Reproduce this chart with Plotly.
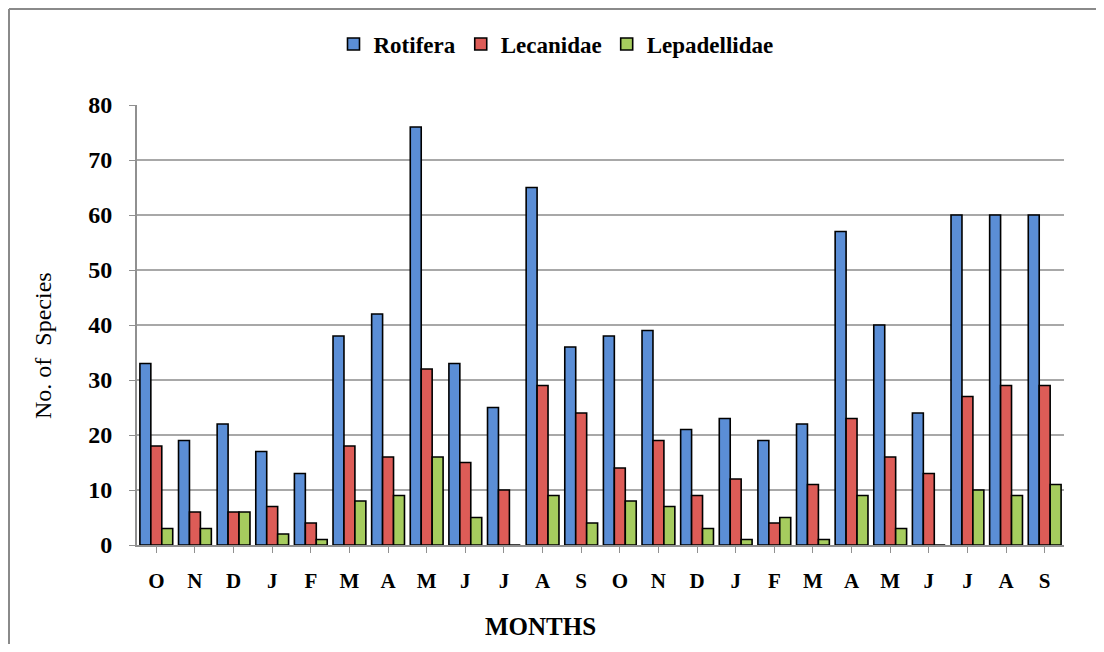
import plotly.graph_objects as go

months = ["O", "N", "D", "J", "F", "M", "A", "M", "J", "J", "A", "S",
          "O", "N", "D", "J", "F", "M", "A", "M", "J", "J", "A", "S"]
rotifera = [33, 19, 22, 17, 13, 38, 42, 76, 33, 25, 65, 36,
            38, 39, 21, 23, 19, 22, 57, 40, 24, 60, 60, 60]
lecanidae = [18, 6, 6, 7, 4, 18, 16, 32, 15, 10, 29, 24,
             14, 19, 9, 12, 4, 11, 23, 16, 13, 27, 29, 29]
lepadellidae = [3, 3, 6, 2, 1, 8, 9, 16, 5, 0, 9, 4,
                8, 7, 3, 1, 5, 1, 9, 3, 0, 10, 9, 11]

x_idx = list(range(len(months)))
FONT = "Liberation Serif, Times New Roman, serif"

fig = go.Figure()
for name, vals, col in [("Rotifera", rotifera, "#5B8ED6"),
                        ("Lecanidae", lecanidae, "#DD5C57"),
                        ("Lepadellidae", lepadellidae, "#A6CC5E")]:
    fig.add_trace(go.Bar(x=x_idx, y=vals, name=name,
                         marker=dict(color=col, line=dict(color="#000000", width=1.6))))

# figure is offset by the page's 8px body margin
W, H = 1096, 636
L, R, T, B = 129, 40, 97, 99
pw, ph = W - L - R, H - T - B

bx = (1 - L) / pw          # left border (paper units)
by = (ph + T - 1) / ph     # top border (paper units)

fig.update_layout(
    width=W, height=H,
    paper_bgcolor="white", plot_bgcolor="white",
    margin=dict(l=L, r=R, t=T, b=B, autoexpand=False),
    barmode="group", bargap=0.15, bargroupgap=0.0,
    font=dict(family=FONT, color="#000000"),
    legend=dict(orientation="h", x=(548 - L) / pw, xanchor="center",
                y=1 - 36 / H, yanchor="middle", yref="container",
                bgcolor="rgba(0,0,0,0)",
                font=dict(size=23, family=FONT, weight="bold"),
                traceorder="normal", itemwidth=30),
    showlegend=True,
    shapes=[
        dict(type="line", xref="paper", yref="paper", x0=bx, x1=(W - L) / pw, y0=by, y1=by,
             line=dict(color="#8A8A8A", width=2), layer="below"),
        dict(type="line", xref="paper", yref="paper", x0=bx, x1=bx, y0=-B / ph, y1=by,
             line=dict(color="#8A8A8A", width=2), layer="below"),
    ],
    annotations=[
        dict(text="No. of  Species", textangle=-90, xref="paper", yref="paper",
             x=(35 - L) / pw, y=(537 - 338) / ph, xanchor="center", yanchor="middle",
             showarrow=False, font=dict(size=24, family=FONT)),
        dict(text="<b>MONTHS</b>", xref="paper", yref="paper",
             x=(532 - L) / pw, y=-(618 - 537) / ph, xanchor="center", yanchor="middle",
             showarrow=False, font=dict(size=25, family=FONT)),
    ],
)
fig.update_xaxes(
    tickmode="array", tickvals=x_idx, ticktext=months,
    range=[-0.5, len(months) - 0.5],
    showline=True, linecolor="#909090", linewidth=2,
    ticks="outside", ticklen=6, tickcolor="#909090",
    ticklabelstandoff=10,
    tickfont=dict(size=21, family=FONT, weight="bold"),
    showgrid=False,
)
fig.update_yaxes(
    range=[0, 80], dtick=10,
    showline=True, linecolor="#909090", linewidth=2,
    ticks="outside", ticklen=6, tickcolor="#909090",
    ticklabelstandoff=12,
    gridcolor="#A8A8A8", gridwidth=2,
    tickfont=dict(size=24, family=FONT, weight="bold"),
    zeroline=False,
)
fig.write_html("out.html")
